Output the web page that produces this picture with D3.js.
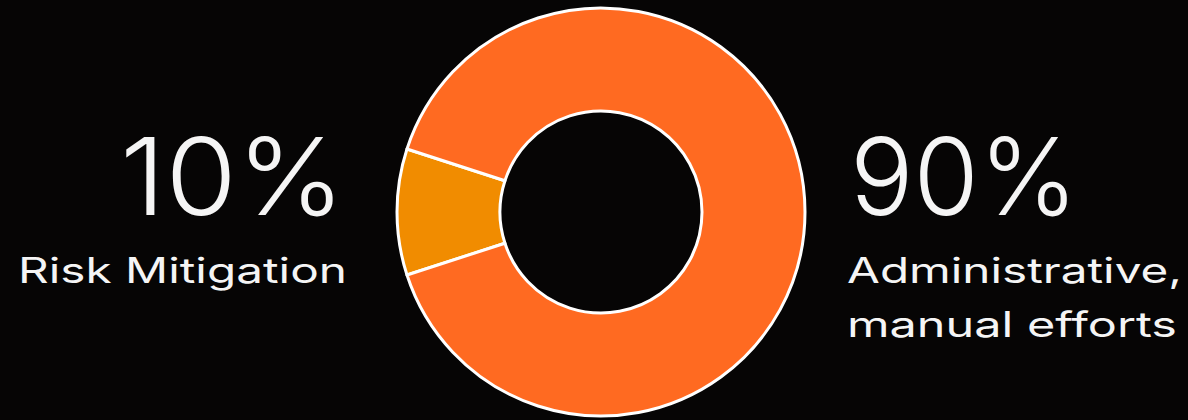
<!DOCTYPE html>
<html>
<head>
<meta charset="utf-8">
<script src="https://cdn.jsdelivr.net/npm/d3@7"></script>
<style>
  html, body { margin: 0; padding: 0; background: #060505; }
  svg { display: block; }
  text { font-family: Inter, "Open Sans", sans-serif; fill: #f5f5f5; }
</style>
</head>
<body>
<svg id="chart" width="1188" height="420"></svg>
<script>
// chart values
let categories = ["Risk Mitigation", "Administrative, manual efforts"]
let shares = [10, 90]
let colors = ["#f18c00", "#ff6a21"]

let width = 1188, height = 420
let cx = 601, cy = 212
let outerR = 204, innerR = 101

let svg = d3.select("#chart")
svg.append("rect").attr("width", width).attr("height", height).attr("fill", "#060505")

// small slice centred on the left side
let start = -Math.PI / 2 - Math.PI * shares[0] / 100
let pie = d3.pie().sort(null).startAngle(start).endAngle(start + 2 * Math.PI)
let arc = d3.arc().innerRadius(innerR).outerRadius(outerR)

let g = svg.append("g").attr("transform", `translate(${cx},${cy})`)
g.selectAll("path")
  .data(pie(shares))
  .join("path")
  .attr("d", arc)
  .attr("fill", (d, i) => colors[i])
  .attr("stroke", "#ffffff")
  .attr("stroke-width", 3)
  .attr("stroke-linejoin", "round")

// helper: text stretched to the width seen in the picture (wide geometric face)
function label(x, y, size, weight, txt, len) {
  return svg.append("text")
    .attr("x", x).attr("y", y)
    .attr("textLength", len).attr("lengthAdjust", "spacingAndGlyphs")
    .style("font-size", size + "px").style("font-weight", weight)
    .text(txt)
}

// left label
label(120, 215, 107, 300, shares[0] + "%", 225)
label(18, 283, 35, 400, categories[0], 329)

// right label
let lines = categories[1].split(" ")
label(850, 215, 107, 300, shares[1] + "%", 228)
label(847, 283, 35, 400, lines[0], 335)
label(847, 337, 35, 400, lines.slice(1).join(" "), 330)
</script>
</body>
</html>
